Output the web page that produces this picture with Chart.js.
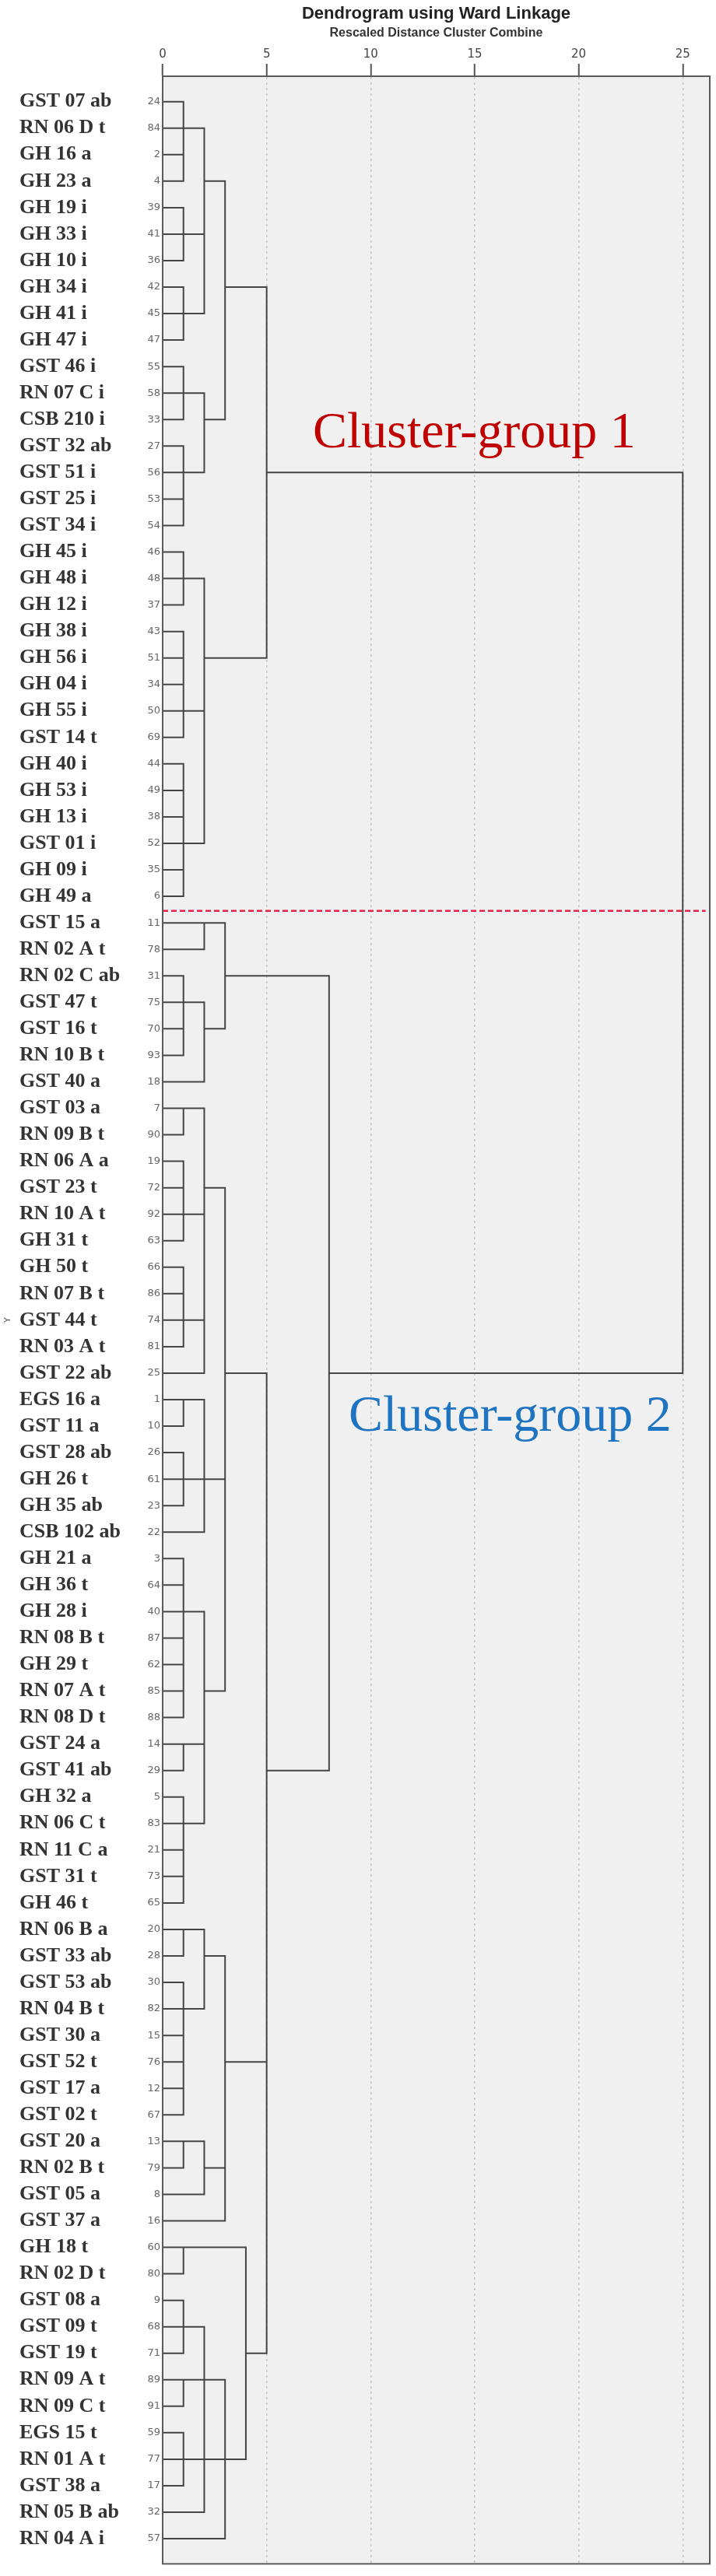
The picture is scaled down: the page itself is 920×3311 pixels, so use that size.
<!DOCTYPE html>
<html>
<head>
<meta charset="utf-8">
<title>Dendrogram using Ward Linkage</title>
<script src="https://cdn.jsdelivr.net/npm/chart.js@4.4.1/dist/chart.umd.min.js"></script>
<style>
  html, body { margin: 0; padding: 0; background: #fff; }
  #wrap { position: relative; width: 920px; height: 3311px; }
</style>
</head>
<body>
<div id="wrap"><canvas id="dendro"></canvas></div>
<script>
// Sample labels, top to bottom (row 1 = first)
const names = [
  'GST 07 ab', 'RN 06 D t', 'GH 16 a', 'GH 23 a', 'GH 19 i', 'GH 33 i', 'GH 10 i', 'GH 34 i',
  'GH 41 i', 'GH 47 i', 'GST 46 i', 'RN 07 C i', 'CSB 210 i', 'GST 32 ab', 'GST 51 i', 'GST 25 i',
  'GST 34 i', 'GH 45 i', 'GH 48 i', 'GH 12 i', 'GH 38 i', 'GH 56 i', 'GH 04 i', 'GH 55 i',
  'GST 14 t', 'GH 40 i', 'GH 53 i', 'GH 13 i', 'GST 01 i', 'GH 09 i', 'GH 49 a',
  'GST 15 a', 'RN 02 A t', 'RN 02 C ab', 'GST 47 t', 'GST 16 t', 'RN 10 B t', 'GST 40 a',
  'GST 03 a', 'RN 09 B t', 'RN 06 A a', 'GST 23 t', 'RN 10 A t', 'GH 31 t', 'GH 50 t',
  'RN 07 B t', 'GST 44 t', 'RN 03 A t', 'GST 22 ab', 'EGS 16 a', 'GST 11 a', 'GST 28 ab',
  'GH 26 t', 'GH 35 ab', 'CSB 102 ab', 'GH 21 a', 'GH 36 t', 'GH 28 i', 'RN 08 B t', 'GH 29 t',
  'RN 07 A t', 'RN 08 D t', 'GST 24 a', 'GST 41 ab', 'GH 32 a', 'RN 06 C t', 'RN 11 C a',
  'GST 31 t', 'GH 46 t', 'RN 06 B a', 'GST 33 ab', 'GST 53 ab', 'RN 04 B t', 'GST 30 a',
  'GST 52 t', 'GST 17 a', 'GST 02 t', 'GST 20 a', 'RN 02 B t', 'GST 05 a', 'GST 37 a',
  'GH 18 t', 'RN 02 D t', 'GST 08 a', 'GST 09 t', 'GST 19 t', 'RN 09 A t', 'RN 09 C t',
  'EGS 15 t', 'RN 01 A t', 'GST 38 a', 'RN 05 B ab', 'RN 04 A i'
];

// SPSS case numbers printed next to each label
const caseNums = [
  24, 84, 2, 4, 39, 41, 36, 42, 45, 47, 55, 58, 33, 27, 56, 53, 54, 46, 48, 37, 43, 51, 34, 50,
  69, 44, 49, 38, 52, 35, 6,
  11, 78, 31, 75, 70, 93, 18, 7, 90, 19, 72, 92, 63, 66, 86, 74, 81, 25, 1, 10, 26, 61, 23, 22,
  3, 64, 40, 87, 62, 85, 88, 14, 29, 5, 83, 21, 73, 65, 20, 28, 30, 82, 15, 76, 12, 67, 13, 79,
  8, 16, 60, 80, 9, 68, 71, 89, 91, 59, 77, 17, 32, 57
];

// Merges: h = rescaled distance, row = where the stem leaves.
// kids: numbers are leaf rows, strings are earlier merges.
const merges = [
  { id: 'A', h: 1, row: 2, kids: [1, 2, 3, 4] },
  { id: 'B', h: 1, row: 6, kids: [5, 6, 7] },
  { id: 'C', h: 1, row: 9, kids: [8, 9, 10] },
  { id: 'ABC', h: 2, row: 4, kids: ['A', 'B', 'C'] },
  { id: 'D', h: 1, row: 12, kids: [11, 12, 13] },
  { id: 'E', h: 1, row: 15, kids: [14, 15, 16, 17] },
  { id: 'DE', h: 2, row: 13, kids: ['D', 'E'] },
  { id: 'G1a', h: 3, row: 8, kids: ['ABC', 'DE'] },
  { id: 'F', h: 1, row: 19, kids: [18, 19, 20] },
  { id: 'G', h: 1, row: 24, kids: [21, 22, 23, 24, 25] },
  { id: 'H', h: 1, row: 29, kids: [26, 27, 28, 29, 30, 31] },
  { id: 'FGH', h: 2, row: 22, kids: ['F', 'G', 'H'] },
  { id: 'G1', h: 5, row: 15, kids: ['G1a', 'FGH'] },

  { id: 'I', h: 2, row: 32, kids: [32, 33] },
  { id: 'J', h: 1, row: 35, kids: [34, 35, 36, 37] },
  { id: 'J38', h: 2, row: 36, kids: ['J', 38] },
  { id: 'K', h: 3, row: 34, kids: ['I', 'J38'] },
  { id: 'L', h: 1, row: 39, kids: [39, 40] },
  { id: 'M', h: 1, row: 43, kids: [41, 42, 43, 44] },
  { id: 'N', h: 1, row: 47, kids: [45, 46, 47, 48] },
  { id: 'LMN', h: 2, row: 42, kids: ['L', 'M', 'N', 49] },
  { id: 'O', h: 1, row: 50, kids: [50, 51] },
  { id: 'P', h: 1, row: 53, kids: [52, 53, 54] },
  { id: 'OP', h: 2, row: 53, kids: ['O', 'P', 55] },
  { id: 'Q', h: 1, row: 58, kids: [56, 57, 58, 59, 60, 61, 62] },
  { id: 'R', h: 1, row: 63, kids: [63, 64] },
  { id: 'S', h: 1, row: 66, kids: [65, 66, 67, 68, 69] },
  { id: 'QRS', h: 2, row: 61, kids: ['Q', 'R', 'S'] },
  { id: 'G2a', h: 3, row: 49, kids: ['LMN', 'OP', 'QRS'] },
  { id: 'T', h: 1, row: 70, kids: [70, 71] },
  { id: 'U', h: 1, row: 73, kids: [72, 73, 74, 75, 76, 77] },
  { id: 'TU', h: 2, row: 71, kids: ['T', 'U'] },
  { id: 'V', h: 1, row: 78, kids: [78, 79] },
  { id: 'V80', h: 2, row: 79, kids: ['V', 80] },
  { id: 'G2b', h: 3, row: 75, kids: ['TU', 'V80', 81] },
  { id: 'W', h: 1, row: 82, kids: [82, 83] },
  { id: 'X', h: 1, row: 85, kids: [84, 85, 86] },
  { id: 'Y', h: 1, row: 87, kids: [87, 88] },
  { id: 'Z', h: 1, row: 90, kids: [89, 90, 91] },
  { id: 'XZ', h: 2, row: 90, kids: ['X', 'Z', 92] },
  { id: 'YXZ', h: 3, row: 90, kids: ['Y', 'XZ', 93] },
  { id: 'G2c', h: 4, row: 86, kids: ['W', 'YXZ'] },
  { id: 'G2d', h: 5, row: 64, kids: ['G2a', 'G2b', 'G2c'] },
  { id: 'G2', h: 8, row: 49, kids: ['K', 'G2d'] },
  { id: 'root', h: 25, row: null, kids: ['G1', 'G2'] }
];

const xTicks = [0, 5, 10, 15, 20, 25];
const cutRow = 31.55;           // red dashed separator between the two groups
const cutEnd = 26.1;
const groupLabels = ['Cluster-group 1', 'Cluster-group 2'];
const groupColors = ['#c00000', '#1f74c2'];
const groupAnchors = [{ x: 7.22, y: 14.05 }, { x: 8.94, y: 51.18 }];

const rows = names.map((_, i) => i + 1);
const yMin = 0.04, yMax = 93.95;

// tree segments, broken with null points
const byId = {};
merges.forEach(m => { byId[m.id] = m; });
const kidPos = k => typeof k === 'number' ? { x: 0, y: k } : { x: byId[k].h, y: byId[k].row };

const treePts = [];
const gap = { x: null, y: null };
merges.forEach(m => {
  const ks = m.kids.map(kidPos);
  const ys = ks.map(p => p.y);
  treePts.push({ x: m.h, y: Math.min(...ys) }, { x: m.h, y: Math.max(...ys) }, gap);
  ks.forEach(p => treePts.push({ x: p.x, y: p.y }, { x: m.h, y: p.y }, gap));
});

const plotFrame = {
  id: 'plotFrame',
  beforeDraw(chart) {
    const { ctx, chartArea: a } = chart;
    ctx.save();
    ctx.fillStyle = '#f0f0f0';
    ctx.fillRect(a.left, a.top, a.right - a.left, a.bottom - a.top);
    ctx.restore();
  },
  afterDraw(chart) {
    const { ctx, chartArea: a, scales } = chart;
    ctx.save();
    ctx.strokeStyle = '#5a5a5a';
    ctx.lineWidth = 2;
    ctx.strokeRect(a.left, a.top, a.right - a.left, a.bottom - a.top);
    ctx.font = '66px "Liberation Serif"';
    ctx.textBaseline = 'alphabetic';
    groupLabels.forEach((t, i) => {
      ctx.fillStyle = groupColors[i];
      ctx.fillText(t, scales.x.getPixelForValue(groupAnchors[i].x), scales.y.getPixelForValue(groupAnchors[i].y));
    });
    ctx.restore();
  }
};

const rowTicks = s => { s.ticks = rows.map(v => ({ value: v })); };

new Chart(document.getElementById('dendro'), {
  type: 'scatter',
  data: {
    datasets: [
      {
        label: 'cut',
        data: [{ x: 0, y: cutRow }, { x: cutEnd, y: cutRow }],
        showLine: true,
        borderColor: '#e2234a',
        borderWidth: 2.5,
        borderDash: [7, 4],
        pointRadius: 0
      },
      {
        label: 'tree',
        data: treePts,
        showLine: true,
        spanGaps: false,
        borderColor: '#444',
        borderWidth: 2,
        borderCapStyle: 'square',
        pointRadius: 0
      }
    ]
  },
  options: {
    responsive: true,
    maintainAspectRatio: false,
    animation: false,
    layout: { padding: { left: 0, right: 8, top: 0, bottom: 14 } },
    scales: {
      x: {
        type: 'linear',
        position: 'top',
        min: 0,
        max: 26.3,
        afterBuildTicks: s => { s.ticks = xTicks.map(v => ({ value: v })); },
        afterFit: s => { s.height = 37.4; },
        ticks: { color: '#444', padding: 3, font: { family: 'DejaVu Sans', size: 15 } },
        grid: {
          color: c => c.tick && c.tick.value === 0 ? 'rgba(0,0,0,0)' : '#c6c6c6',
          lineWidth: 1.5,
          tickLength: 16,
          tickColor: '#555',
          tickWidth: 2
        },
        border: { display: true, color: '#5a5a5a', width: 2, dash: [3, 4] }
      },
      yNum: {
        type: 'linear',
        position: 'left',
        weight: 0,
        reverse: true,
        min: yMin,
        max: yMax,
        afterBuildTicks: rowTicks,
        afterFit: s => { s.width = 40; },
        ticks: {
          autoSkip: false,
          crossAlign: 'near',
          padding: 3,
          color: '#666',
          font: { family: 'DejaVu Sans', size: 13 },
          callback: v => String(caseNums[v - 1])
        },
        grid: { display: false, drawTicks: false },
        border: { display: true, color: '#5a5a5a', width: 2 }
      },
      y: {
        type: 'linear',
        position: 'left',
        weight: 1,
        reverse: true,
        min: yMin,
        max: yMax,
        afterBuildTicks: rowTicks,
        afterFit: s => { s.width = 144; },
        ticks: {
          autoSkip: false,
          crossAlign: 'far',
          padding: 0,
          color: '#333',
          font: { family: 'Liberation Serif', size: 26, weight: 'bold' },
          callback: v => names[v - 1]
        },
        grid: { display: false, drawTicks: false },
        border: { display: false }
      },
      yTitle: {
        type: 'linear',
        position: 'left',
        weight: 2,
        reverse: true,
        min: yMin,
        max: yMax,
        afterFit: s => { s.width = 25; },
        ticks: { display: false },
        grid: { display: false, drawTicks: false },
        border: { display: false },
        title: {
          display: true,
          text: 'Y',
          color: '#555',
          font: { family: 'DejaVu Sans', size: 11 },
          padding: { top: 4, bottom: 0 }
        }
      }
    },
    plugins: {
      legend: { display: false },
      tooltip: { enabled: false },
      title: {
        display: true,
        fullSize: false,
        text: 'Dendrogram using Ward Linkage',
        color: '#222',
        font: { family: 'Liberation Sans', size: 22, weight: 'bold' },
        padding: { top: 5, bottom: 2 }
      },
      subtitle: {
        display: true,
        fullSize: false,
        text: 'Rescaled Distance Cluster Combine',
        color: '#333',
        font: { family: 'Liberation Sans', size: 16, weight: 'bold' },
        padding: { top: 0, bottom: 8 }
      }
    }
  },
  plugins: [plotFrame]
});
</script>
</body>
</html>
